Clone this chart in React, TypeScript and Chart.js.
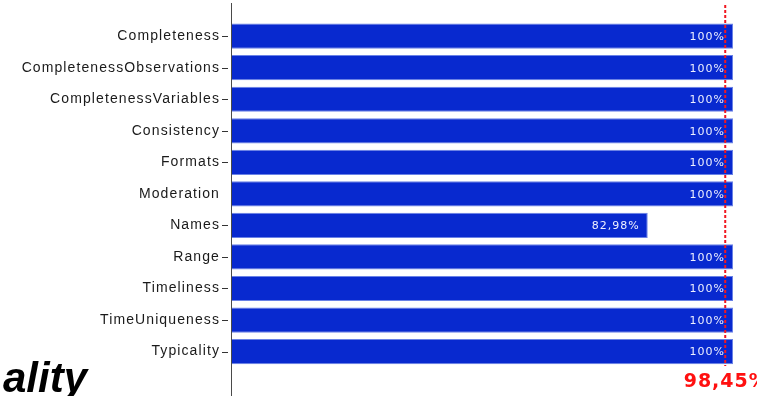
import React, { useEffect, useRef } from 'react';
import { Chart, registerables } from 'chart.js';

Chart.register(...registerables);

const CATEGORIES = [
  'Completeness',
  'CompletenessObservations',
  'CompletenessVariables',
  'Consistency',
  'Formats',
  'Moderation',
  'Names',
  'Range',
  'Timeliness',
  'TimeUniqueness',
  'Typicality',
];
const VALUES = [100, 100, 100, 100, 100, 100, 82.98, 100, 100, 100, 100];
const AVERAGE = 98.45;
const NO_TICK_MARK = ['Moderation'];
const TITLE_FRAGMENT = 'ality';
const X_MIN = 0;
const X_MAX = 100;

function fmt(v: number): string {
  return (Number.isInteger(v) ? String(v) : v.toFixed(2).replace('.', ',')) + '%';
}

const overlayPlugin = {
  id: 'overlay',
  beforeDraw(chart: any) {
    (chart.ctx as any).letterSpacing = '1.1px';
  },
  afterDraw(chart: any) {
    const ctx = chart.ctx as CanvasRenderingContext2D & { letterSpacing?: string };
    const area = chart.chartArea;
    const xs = chart.scales.x;
    const ys = chart.scales.y;

    // vertical axis line
    ctx.save();
    ctx.strokeStyle = '#4a4a4a';
    ctx.lineWidth = 1;
    ctx.beginPath();
    ctx.moveTo(area.left - 0.5, 3);
    ctx.lineTo(area.left - 0.5, chart.height);
    ctx.stroke();

    // tick marks
    ctx.strokeStyle = '#333';
    CATEGORIES.forEach((c, i) => {
      if (NO_TICK_MARK.includes(c)) return;
      const y = Math.round(ys.getPixelForTick(i)) + 0.5;
      ctx.beginPath();
      ctx.moveTo(area.left - 10, y);
      ctx.lineTo(area.left - 4, y);
      ctx.stroke();
    });
    ctx.restore();

    // value labels
    const meta = chart.getDatasetMeta(0);
    ctx.save();
    ctx.letterSpacing = '1px';
    ctx.font = '11px "DejaVu Sans"';
    ctx.fillStyle = '#eef0ff';
    ctx.textAlign = 'right';
    ctx.textBaseline = 'middle';
    meta.data.forEach((bar: any, i: number) => {
      ctx.fillText(fmt(VALUES[i]), bar.x - 8, bar.y + 1);
    });
    ctx.restore();

    // average line
    const ax = xs.getPixelForValue(AVERAGE);
    ctx.save();
    ctx.strokeStyle = '#f01820';
    ctx.lineWidth = 2;
    ctx.setLineDash([3, 2]);
    ctx.beginPath();
    ctx.moveTo(ax, 5);
    ctx.lineTo(ax, 366);
    ctx.stroke();
    ctx.setLineDash([]);
    ctx.letterSpacing = '1px';
    ctx.font = 'bold 19px "DejaVu Sans"';
    ctx.fillStyle = '#ff1010';
    ctx.textAlign = 'center';
    ctx.textBaseline = 'alphabetic';
    ctx.fillText(fmt(AVERAGE), ax + 1, 387);
    ctx.restore();

    // cut-off title fragment
    ctx.save();
    ctx.letterSpacing = '0px';
    ctx.font = 'italic bold 42px "Liberation Sans"';
    ctx.fillStyle = '#000';
    ctx.textAlign = 'right';
    ctx.textBaseline = 'alphabetic';
    ctx.fillText(TITLE_FRAGMENT, 87, 392);
    ctx.restore();
  },
};

export default function App() {
  const ref = useRef<HTMLCanvasElement | null>(null);

  useEffect(() => {
    if (!ref.current) return;
    const chart = new Chart(ref.current, {
      type: 'bar',
      data: {
        labels: CATEGORIES,
        datasets: [
          {
            data: VALUES,
            backgroundColor: '#0829cf',
            borderColor: '#6a82e6',
            borderWidth: 1,
            categoryPercentage: 1,
            barPercentage: 0.8,
          },
        ],
      },
      options: {
        indexAxis: 'y',
        responsive: false,
        devicePixelRatio: 1,
        animation: false,
        layout: { padding: { top: 18.65, bottom: 28.65, left: 0, right: 24 } },
        plugins: { legend: { display: false }, tooltip: { enabled: false }, title: { display: false } },
        scales: {
          x: { type: 'linear', min: X_MIN, max: X_MAX, display: false },
          y: {
            type: 'category',
            grid: { display: false, drawTicks: false },
            border: { display: false },
            ticks: {
              padding: 12,
              color: '#1a1a1a',
              font: { family: 'Liberation Sans', size: 14 },
            },
            afterFit(scale: any) {
              scale.width = 232;
            },
          },
        },
      },
      plugins: [overlayPlugin],
    } as any);
    return () => chart.destroy();
  }, []);

  return (
    <div style={{ position: 'absolute', left: 0, top: 0, width: 757, height: 396, background: '#fff', overflow: 'hidden' }}>
      <canvas ref={ref} width={757} height={396} style={{ display: 'block' }} />
    </div>
  );
}
